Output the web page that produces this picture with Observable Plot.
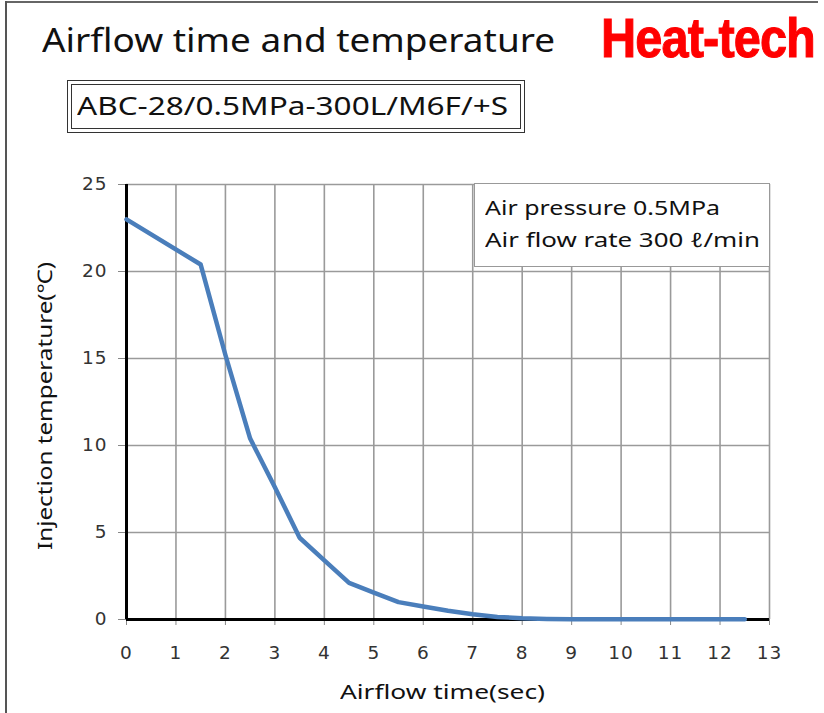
<!DOCTYPE html>
<html>
<head>
<meta charset="utf-8">
<script src="https://cdn.jsdelivr.net/npm/d3@7"></script>
<script src="https://cdn.jsdelivr.net/npm/@observablehq/plot@0.6"></script>
<style>
  html, body { margin: 0; padding: 0; background: #fff; }
  #wrap { position: relative; width: 824px; height: 713px; overflow: hidden; font-family: "Noto Sans", "DejaVu Sans", sans-serif; }
  #wrap svg { position: absolute; left: 0; top: 0; }
  #wrap svg text { font-family: "DejaVu Sans", sans-serif; font-size: 18.5px; fill: #333; letter-spacing: 1px; }
  .abs { position: absolute; white-space: nowrap; line-height: 1; transform-origin: 0 0; }
</style>
</head>
<body>
<div id="wrap"></div>
<script>
// ---- data ----
const timeSec = [0, 1.5, 2, 2.5, 3, 3.5, 4, 4.5, 5, 5.5, 6, 6.5, 7, 7.5, 8, 8.5, 9, 10, 11, 12, 12.5];
const tempC   = [23, 20.4, 15.2, 10.4, 7.6, 4.7, 3.4, 2.1, 1.55, 1.0, 0.75, 0.5, 0.3, 0.15, 0.07, 0.03, 0.02, 0.01, 0.01, 0.01, 0.01];
const xTicks = [0,1,2,3,4,5,6,7,8,9,10,11,12,13];
const yTicks = [0,5,10,15,20,25];
const titleText = "Airflow time and temperature";
const brandText = "Heat-tech";
const modelText = "ABC-28/0.5MPa-300L/M6F/+S";
const noteLines = ["Air pressure 0.5MPa", "Air flow rate 300 ℓ/min"];
const xLabel = "Airflow time(sec)";
const yLabel = "Injection temperature(℃)";

const data = timeSec.map((t, i) => ({t, v: tempC[i]}));

const chart = Plot.plot({
  width: 824,
  height: 713,
  marginLeft: 126,
  marginRight: 55,
  marginTop: 184,
  marginBottom: 94,
  style: {fontFamily: "'DejaVu Sans', sans-serif", fontSize: "18.5px", color: "#333", background: "transparent"},
  x: {domain: [0, 13]},
  y: {domain: [0, 25]},
  marks: [
    Plot.ruleX(xTicks.slice(1), {stroke: "#9a9a9a", strokeWidth: 1.6}),
    Plot.ruleY(yTicks.slice(1), {stroke: "#9a9a9a", strokeWidth: 1.6}),
    Plot.axisX({ticks: xTicks, tickFormat: d => String(d), tickSize: 6, tickPadding: 20, stroke: "#888", label: null}),
    Plot.axisY({ticks: yTicks, tickFormat: d => String(d), tickSize: 8, tickPadding: 11, stroke: "#888", label: null}),
    Plot.ruleX([0], {stroke: "#000", strokeWidth: 3}),
    Plot.ruleY([0], {stroke: "#000", strokeWidth: 3}),
    Plot.line(data, {x: "t", y: "v", stroke: "#4a7ebb", strokeWidth: 4.5, strokeLinejoin: "round", curve: "linear"})
  ]
});
const wrap = document.getElementById("wrap");
wrap.appendChild(chart);

function add(html, css) {
  const d = document.createElement("div");
  d.className = "abs";
  d.innerHTML = html;
  Object.assign(d.style, css);
  wrap.appendChild(d);
  return d;
}
function fitW(el, w) {
  const r = el.getBoundingClientRect();
  if (r.width > 0) {
    const s = w / r.width;
    el.style.transform = (el.style.transform || "") + ` scaleX(${s})`;
  }
}

// outer frame
add("", {left: "5px", top: "1px", width: "813px", height: "0", borderTop: "2px solid #666"});
add("", {left: "5px", top: "1px", width: "0", height: "720px", borderLeft: "2.5px solid #555"});

// title
const t = add(titleText, {left: "42px", top: "23px", fontSize: "33px", color: "#111", fontFamily: "'Noto Sans', sans-serif"});
fitW(t, 513);

// brand
const b = add(brandText, {left: "601px", top: "11px", fontSize: "55px", fontWeight: "bold", color: "#ff0000", fontFamily: "'Liberation Sans Narrow', 'Liberation Sans', Arial, sans-serif", letterSpacing: "-1px", WebkitTextStroke: "1px #ff0000"});
fitW(b, 214);

// model box (double border)
add("", {left: "67px", top: "80px", width: "456px", height: "51px", border: "1.5px solid #333", background: "#fff"});
add("", {left: "71px", top: "84px", width: "448px", height: "43px", border: "1.5px solid #333"});
const m = add(modelText, {left: "77px", top: "93px", fontSize: "25px", color: "#111"});
fitW(m, 431);

// note box
add("", {left: "474px", top: "183px", width: "296px", height: "84px", border: "1.5px solid #999", background: "#fff", boxSizing: "border-box"});
const n1 = add(noteLines[0], {left: "485px", top: "198px", fontSize: "20px", color: "#111"});
fitW(n1, 235);
const n2 = add(noteLines[1], {left: "485px", top: "230px", fontSize: "20px", color: "#111"});
fitW(n2, 275);

// axis labels
const xl = add(xLabel, {left: "340px", top: "682px", fontSize: "20px", color: "#111"});
fitW(xl, 205);
const yl = add(yLabel, {left: "0px", top: "0px", fontSize: "20px", color: "#111"});
const yw = yl.getBoundingClientRect().width;
const targetLen = 288;
yl.style.transform = `translate(35px, 550px) rotate(-90deg) scaleX(${targetLen / yw})`;
</script>
</body>
</html>
